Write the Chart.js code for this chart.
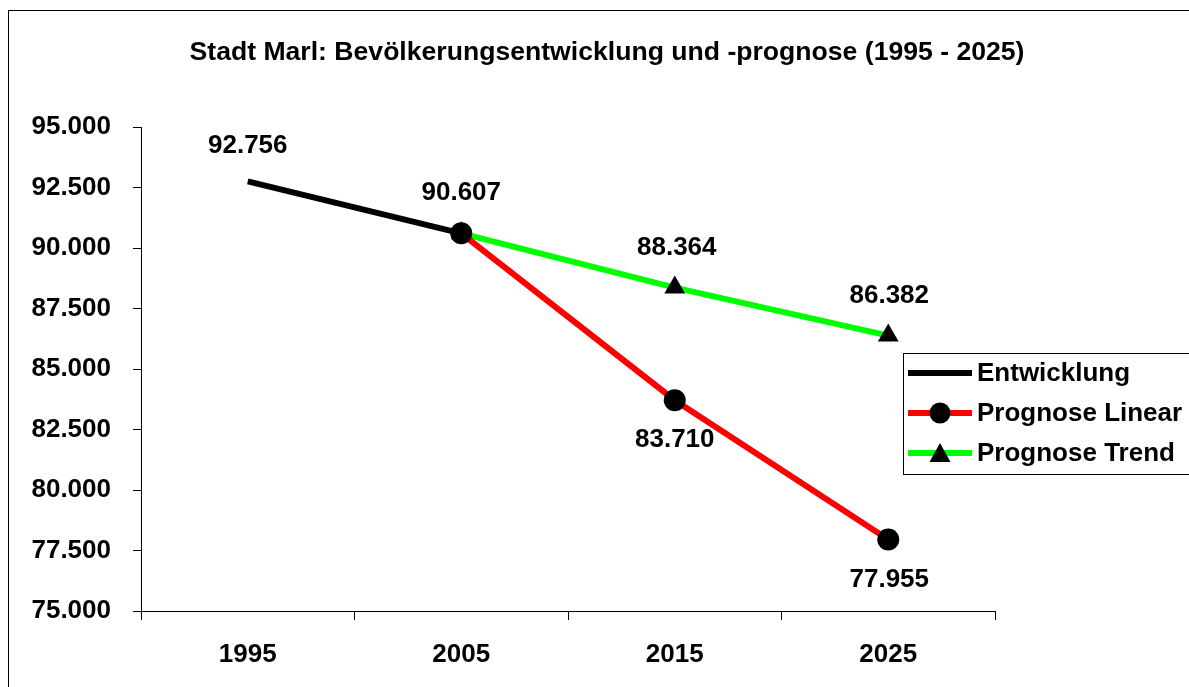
<!DOCTYPE html>
<html>
<head>
<meta charset="utf-8">
<script src="https://cdn.jsdelivr.net/npm/chart.js@4"></script>
<style>
html,body{margin:0;padding:0;background:#fff;}
#wrap{position:relative;width:1189px;height:687px;}
</style>
</head>
<body>
<div id="wrap"><canvas id="c" width="1189" height="687"></canvas></div>
<script>
const titleText = 'Stadt Marl: Bevölkerungsentwicklung und -prognose (1995 - 2025)';
const categories = ['1995', '2005', '2015', '2025'];
const entwicklung = [92756, 90607, null, null];
const prognoseLinear = [null, 90607, 83710, 77955];
const prognoseTrend = [null, 90607, 88364, 86382];
const yTicks = [75000, 77500, 80000, 82500, 85000, 87500, 90000, 92500, 95000];

const FONT = '"Liberation Sans", Arial, sans-serif';
function fmtNum(v){
  const s = String(v);
  return s.slice(0, s.length-3) + '.' + s.slice(s.length-3);
}

const labelPlan = [
  {ds:0, idx:0, dy:-35, dx:0},
  {ds:0, idx:1, dy:-40, dx:0},
  {ds:2, idx:2, dy:-40, dx:2},
  {ds:2, idx:3, dy:-40, dx:1},
  {ds:1, idx:2, dy:40, dx:0},
  {ds:1, idx:3, dy:40, dx:1}
];

const frame = {
  id:'frame',
  beforeDraw(chart){
    const ctx = chart.ctx;
    ctx.save();
    ctx.fillStyle = '#fff';
    ctx.fillRect(0,0,chart.width,chart.height);
    ctx.strokeStyle = '#000';
    ctx.lineWidth = 1;
    ctx.strokeRect(8.5, 10.5, 1400, 900);
    ctx.fillStyle = '#000';
    ctx.font = 'bold 26.6px ' + FONT;
    ctx.textAlign = 'center';
    ctx.textBaseline = 'middle';
    ctx.fillText(titleText, 607, 53);
    ctx.restore();
  }
};

const dataLabels = {
  id:'dataLabels',
  afterDatasetsDraw(chart){
    const ctx = chart.ctx;
    ctx.save();
    ctx.font = 'bold 26px ' + FONT;
    ctx.fillStyle = '#000';
    ctx.textAlign = 'center';
    ctx.textBaseline = 'middle';
    labelPlan.forEach(p => {
      const el = chart.getDatasetMeta(p.ds).data[p.idx];
      const v = chart.data.datasets[p.ds].data[p.idx];
      ctx.fillText(fmtNum(v), el.x + p.dx, el.y + p.dy);
    });
    ctx.restore();
  }
};

const customLegend = {
  id:'customLegend',
  afterDraw(chart){
    const ctx = chart.ctx;
    ctx.save();
    ctx.fillStyle = '#fff';
    ctx.fillRect(903, 353, 300, 122);
    ctx.strokeStyle = '#000';
    ctx.lineWidth = 1;
    ctx.strokeRect(903.5, 353.5, 300, 121);
    const rows = [373, 413, 453];
    chart.data.datasets.forEach((ds, i) => {
      const y = rows[i];
      ctx.strokeStyle = ds.borderColor;
      ctx.lineWidth = 6;
      ctx.beginPath();
      ctx.moveTo(908, y);
      ctx.lineTo(972, y);
      ctx.stroke();
      if (ds.pointRadius > 0) {
        ctx.fillStyle = '#000';
        ctx.beginPath();
        if (ds.pointStyle === 'circle') {
          ctx.arc(940, y, 10.5, 0, Math.PI*2);
        } else {
          ctx.moveTo(940, y - 10);
          ctx.lineTo(950.5, y + 9);
          ctx.lineTo(929.5, y + 9);
          ctx.closePath();
        }
        ctx.fill();
      }
      ctx.fillStyle = '#000';
      ctx.font = 'bold 26px ' + FONT;
      ctx.textAlign = 'left';
      ctx.textBaseline = 'middle';
      ctx.fillText(ds.label, 977, y + 1);
    });
    ctx.restore();
  }
};

new Chart(document.getElementById('c'), {
  type:'line',
  data:{
    labels: categories,
    datasets:[
      {label:'Entwicklung', data: entwicklung, borderColor:'#000000', backgroundColor:'#000000', borderWidth:6, pointRadius:0, pointStyle:'circle', order:1, spanGaps:false},
      {label:'Prognose Linear', data: prognoseLinear, borderColor:'#FF0000', backgroundColor:'#000000', pointBackgroundColor:'#000000', pointBorderColor:'#000000', pointBorderWidth:0, borderWidth:6, pointRadius:11, pointStyle:'circle', order:0},
      {label:'Prognose Trend', data: prognoseTrend, borderColor:'#00FF00', backgroundColor:'#000000', pointBackgroundColor:'#000000', pointBorderColor:'#000000', pointBorderWidth:0, borderWidth:6, pointRadius:12, pointStyle:'triangle', order:2}
    ]
  },
  options:{
    responsive:false,
    animation:false,
    clip:false,
    layout:{padding:{left:10, right:194, top:127, bottom:16}},
    plugins:{
      legend:{display:false},
      tooltip:{enabled:false},
      title:{display:false}
    },
    scales:{
      x:{
        offset:true,
        grid:{offset:true, drawOnChartArea:false, drawTicks:true, tickLength:9, color:'#000', lineWidth:1},
        border:{display:true, color:'#000', width:1},
        ticks:{color:'#000', font:{family:FONT, size:26, weight:'bold'}, padding:19, maxRotation:0},
        afterFit(s){ s.height = 60; }
      },
      y:{
        min:75000, max:95000,
        afterBuildTicks(s){ s.ticks = yTicks.map(v => ({value:v})); },
        grid:{drawOnChartArea:false, drawTicks:true, tickLength:8, color:'#000', lineWidth:1},
        border:{display:true, color:'#000', width:1},
        ticks:{color:'#000', font:{family:FONT, size:26, weight:'bold'}, padding:22, callback:(v)=>fmtNum(v)},
        afterFit(s){ s.width = 131; }
      }
    }
  },
  plugins:[frame, dataLabels, customLegend]
});
</script>
</body>
</html>
